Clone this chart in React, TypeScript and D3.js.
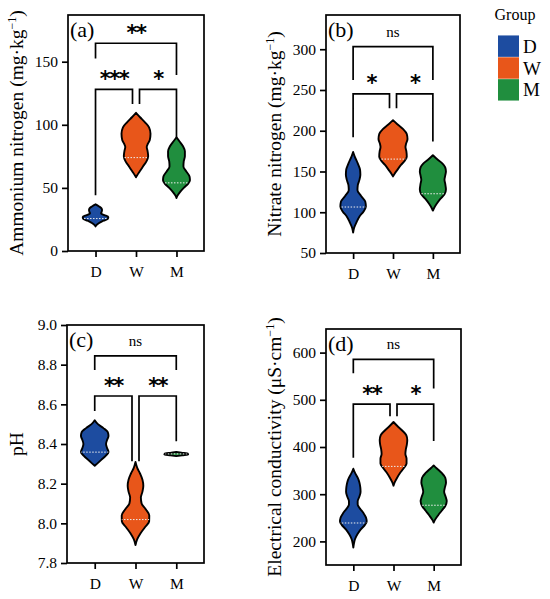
import { useEffect, useRef } from "react"
import * as d3 from "d3"

const groups = ["D", "W", "M"]
const groupColors = ["#1d4ca0", "#e8561a", "#208e3e"]

// violin outlines: [value, relative half-width]
const ammoniumD = [[37, 0], [35.5, 0.22], [34, 0.4], [32.5, 0.45], [31, 0.42], [29.8, 0.38], [28.5, 0.6], [27, 0.88], [25.5, 0.85], [24, 0.55], [22, 0.22], [20.5, 0.06], [19.5, 0]]
const ammoniumW = [[109.5, 0], [106, 0.28], [102, 0.62], [98, 0.9], [93, 1], [88, 0.95], [85, 0.82], [82.5, 0.74], [79, 0.8], [75, 0.84], [71, 0.72], [67, 0.48], [63, 0.25], [60, 0.08], [58.5, 0]]
const ammoniumM = [[90, 0], [87, 0.2], [83, 0.45], [79, 0.58], [75, 0.58], [71, 0.5], [67, 0.48], [63, 0.68], [59, 0.9], [56, 0.93], [53, 0.78], [50, 0.5], [46, 0.2], [43.5, 0.05], [42, 0]]

const nitrateD = [[174, 0], [168, 0.12], [160, 0.32], [152, 0.48], [146, 0.5], [140, 0.44], [133, 0.32], [127, 0.3], [120, 0.55], [113, 0.84], [107, 0.88], [101, 0.72], [95, 0.45], [88, 0.24], [81, 0.07], [75, 0]]
const nitrateW = [[213, 0], [208, 0.3], [202, 0.7], [196, 0.95], [190, 1], [184, 0.9], [180, 0.86], [175, 0.92], [168, 0.95], [163, 0.8], [158, 0.55], [152, 0.3], [147, 0.1], [144, 0]]
const nitrateM = [[170, 0], [165, 0.3], [160, 0.65], [155, 0.85], [150, 0.9], [145, 0.85], [140, 0.8], [135, 0.85], [128, 0.9], [122, 0.8], [116, 0.5], [110, 0.25], [104, 0.05], [102, 0]]

const phD = [[8.52, 0], [8.5, 0.22], [8.48, 0.6], [8.46, 0.9], [8.44, 0.95], [8.42, 0.85], [8.4, 0.78], [8.38, 0.85], [8.36, 0.95], [8.34, 0.75], [8.32, 0.45], [8.3, 0.15], [8.29, 0]]
const phW = [[8.31, 0], [8.28, 0.12], [8.25, 0.32], [8.22, 0.48], [8.19, 0.54], [8.16, 0.48], [8.13, 0.37], [8.1, 0.42], [8.07, 0.72], [8.04, 0.95], [8.01, 0.94], [7.98, 0.65], [7.95, 0.35], [7.92, 0.12], [7.89, 0]]
const phM = [[8.36, 0], [8.356, 0.35], [8.351, 0.8], [8.347, 0.82], [8.343, 0.4], [8.339, 0]]

const ecD = [[354, 0], [345, 0.12], [335, 0.3], [325, 0.42], [315, 0.48], [305, 0.5], [295, 0.42], [285, 0.3], [278, 0.3], [270, 0.45], [260, 0.7], [250, 0.88], [242, 0.92], [235, 0.8], [225, 0.5], [215, 0.28], [205, 0.12], [195, 0.04], [187, 0]]
const ecW = [[453, 0], [445, 0.25], [435, 0.6], [425, 0.88], [415, 0.95], [405, 0.92], [395, 0.85], [385, 0.82], [375, 0.9], [365, 0.9], [355, 0.7], [345, 0.45], [335, 0.25], [325, 0.08], [318, 0]]
const ecM = [[361, 0], [355, 0.2], [345, 0.55], [335, 0.8], [325, 0.85], [315, 0.78], [305, 0.72], [295, 0.82], [285, 0.9], [275, 0.8], [265, 0.55], [255, 0.3], [245, 0.08], [240, 0]]

const ammoniumMedians = [25.7, 74, 54]
const nitrateMedians = [106.4, 165.2, 122.7]
const phMedians = [8.359, 8.019, 8.35]
const ecMedians = [239, 358.9, 276.6]

const ammoniumTicks = [0, 50, 100, 150]
const nitrateTicks = [50, 100, 150, 200, 250, 300]
const phTicks = [7.8, 8.0, 8.2, 8.4, 8.6, 8.8, 9.0]
const ecTicks = [200, 300, 400, 500, 600]

// brackets: [from group, to group, bar value, left leg end, right leg end, label]
const ammoniumBrackets: any[] = [
  [0, 2, 164.6, 152.6, 139.4, "**"],
  [0, 1, 128, 44.2, 116.4, "***"],
  [1, 2, 128, 116.4, 89.2, "*"],
]
const nitrateBrackets: any[] = [
  [0, 2, 303.3, 262.4, 262.4, "ns"],
  [0, 1, 245.3, 192, 227.7, "*"],
  [1, 2, 245.3, 227.7, 186.8, "*"],
]
const phBrackets: any[] = [
  [0, 2, 8.844, 8.773, 8.773, "ns"],
  [0, 1, 8.642, 8.566, 8.313, "**"],
  [1, 2, 8.642, 8.313, 8.414, "**"],
]
const ecBrackets: any[] = [
  [0, 2, 585.8, 556, 524, "ns"],
  [0, 1, 490.8, 377.3, 465, "**"],
  [1, 2, 490.8, 465, 412.8, "*"],
]

const serif = "'Liberation Serif', 'Times New Roman', serif"

const panels = [
  { tag: "(a)", left: 68, right: 204, top: 15, bottom: 251, domain: [0, 187], ticks: ammoniumTicks, fmt: "d",
    violins: [ammoniumD, ammoniumW, ammoniumM], medians: ammoniumMedians, brackets: ammoniumBrackets,
    label: "Ammonium nitrogen (mg·kg", sup: "−1", labelX: 22.5 },
  { tag: "(b)", left: 326, right: 460, top: 15, bottom: 253, domain: [50, 342], ticks: nitrateTicks, fmt: "d",
    violins: [nitrateD, nitrateW, nitrateM], medians: nitrateMedians, brackets: nitrateBrackets,
    label: "Nitrate nitrogen (mg·kg", sup: "−1", labelX: 281 },
  { tag: "(c)", left: 67, right: 204, top: 325, bottom: 563, domain: [7.8, 9.0], ticks: phTicks, fmt: ".1f",
    violins: [phD, phW, phM], medians: phMedians, brackets: phBrackets,
    label: "pH", sup: "", labelX: 22.5 },
  { tag: "(d)", left: 326, right: 461, top: 329, bottom: 565, domain: [150, 650], ticks: ecTicks, fmt: "d",
    violins: [ecD, ecW, ecM], medians: ecMedians, brackets: ecBrackets,
    label: "Electrical conductivity (μS·cm", sup: "−1", labelX: 281 },
]

const halfWidth = 14.5

function drawPanel(svg: any, p: any, idx: number) {
  const y = d3.scaleLinear().domain(p.domain).range([p.bottom, p.top])
  const x = d3.scalePoint().domain(groups).range([p.left, p.right]).padding(0.68)
  const g = svg.append("g")

  // violins
  p.violins.forEach((prof: number[][], i: number) => {
    const cx = x(groups[i]) as number
    const area = d3
      .area<number[]>()
      .curve(d3.curveMonotoneY)
      .y((d) => y(d[0]))
      .x0((d) => cx - d[1] * halfWidth)
      .x1((d) => cx + d[1] * halfWidth)
    const clipId = `clip-${idx}-${i}`
    g.append("clipPath").attr("id", clipId).append("path").attr("d", area(prof))
    g.append("path")
      .attr("d", area(prof))
      .attr("fill", groupColors[i])
      .attr("stroke", "#000")
      .attr("stroke-width", 1.9)
      .attr("stroke-linejoin", "round")
    g.append("line")
      .attr("x1", cx - halfWidth)
      .attr("x2", cx + halfWidth)
      .attr("y1", y(p.medians[i]))
      .attr("y2", y(p.medians[i]))
      .attr("stroke", "#eeeeee")
      .attr("stroke-width", 1)
      .attr("stroke-dasharray", "1.5,1.5")
      .attr("clip-path", `url(#${clipId})`)
  })

  // frame
  g.append("rect")
    .attr("x", p.left)
    .attr("y", p.top)
    .attr("width", p.right - p.left)
    .attr("height", p.bottom - p.top)
    .attr("fill", "none")
    .attr("stroke", "#000")
    .attr("stroke-width", 1.7)

  // axes
  const yAxis = g
    .append("g")
    .attr("transform", `translate(${p.left},0)`)
    .call(d3.axisLeft(y).tickValues(p.ticks).tickFormat(d3.format(p.fmt)).tickSize(6).tickPadding(4))
  const xAxis = g
    .append("g")
    .attr("transform", `translate(0,${p.bottom})`)
    .call(d3.axisBottom(x).tickSize(6).tickPadding(9))
  ;[yAxis, xAxis].forEach((a) => {
    a.select(".domain").remove()
    a.attr("font-family", serif).attr("font-size", 15.5)
    a.selectAll("line").attr("stroke", "#000").attr("stroke-width", 1.7)
    a.selectAll("text").attr("fill", "#000")
  })

  // significance brackets
  p.brackets.forEach(([a, b, bar, e1, e2, label]: any[]) => {
    let xa = x(groups[a]) as number
    let xb = x(groups[b]) as number
    if (a === 1) xa += 3.5
    if (b === 1) xb -= 3.5
    g.append("path")
      .attr("d", `M${xa},${y(e1)}V${y(bar)}H${xb}V${y(e2)}`)
      .attr("fill", "none")
      .attr("stroke", "#000")
      .attr("stroke-width", 1.7)
    const t = g.append("text").attr("x", (xa + xb) / 2).attr("text-anchor", "middle").text(label)
    if (label === "ns") {
      t.attr("y", y(bar) - 10).attr("font-family", serif).attr("font-size", 15)
    } else {
      t.attr("y", y(bar) - 3.5)
        .attr("font-family", "'DejaVu Sans', sans-serif")
        .attr("font-weight", "bold")
        .attr("font-size", 21)
        .attr("letter-spacing", -1.5)
    }
  })

  // panel tag
  g.append("text")
    .attr("x", p.left + 2)
    .attr("y", p.top + 22)
    .attr("font-family", serif)
    .attr("font-size", 22)
    .text(p.tag)

  // y label
  const cy = (p.top + p.bottom) / 2
  const lab = g
    .append("text")
    .attr("transform", `translate(${p.labelX},${cy}) rotate(-90)`)
    .attr("text-anchor", "middle")
    .attr("font-family", serif)
    .attr("font-size", 19.5)
    .text(p.label)
  if (p.sup) {
    lab.append("tspan").attr("dy", -7).attr("font-size", 12).text(p.sup)
    lab.append("tspan").attr("dy", 7).text(")")
  }
}

function drawLegend(svg: any) {
  const g = svg.append("g")
  g.append("text")
    .attr("x", 515)
    .attr("y", 20)
    .attr("text-anchor", "middle")
    .attr("font-family", serif)
    .attr("font-size", 16)
    .text("Group")
  const ly = d3.scaleBand().domain(groups).range([35, 101]).padding(0.02)
  groups.forEach((grp, i) => {
    g.append("rect")
      .attr("x", 498)
      .attr("y", ly(grp))
      .attr("width", 21)
      .attr("height", ly.bandwidth())
      .attr("fill", groupColors[i])
    g.append("text")
      .attr("x", 523)
      .attr("y", (ly(grp) as number) + ly.bandwidth() / 2 + 6.5)
      .attr("font-family", serif)
      .attr("font-size", 19)
      .text(grp)
  })
}

export default function App() {
  const svgRef = useRef<SVGSVGElement>(null)

  useEffect(() => {
    if (!svgRef.current) return
    const svg = d3.select(svgRef.current)
    svg.selectAll("*").remove()
    panels.forEach((p, i) => drawPanel(svg, p, i))
    drawLegend(svg)
  }, [])

  return (
    <svg
      ref={svgRef}
      width={550}
      height={599}
      style={{ position: "absolute", left: 0, top: 0, background: "#fff" }}
    ></svg>
  )
}
